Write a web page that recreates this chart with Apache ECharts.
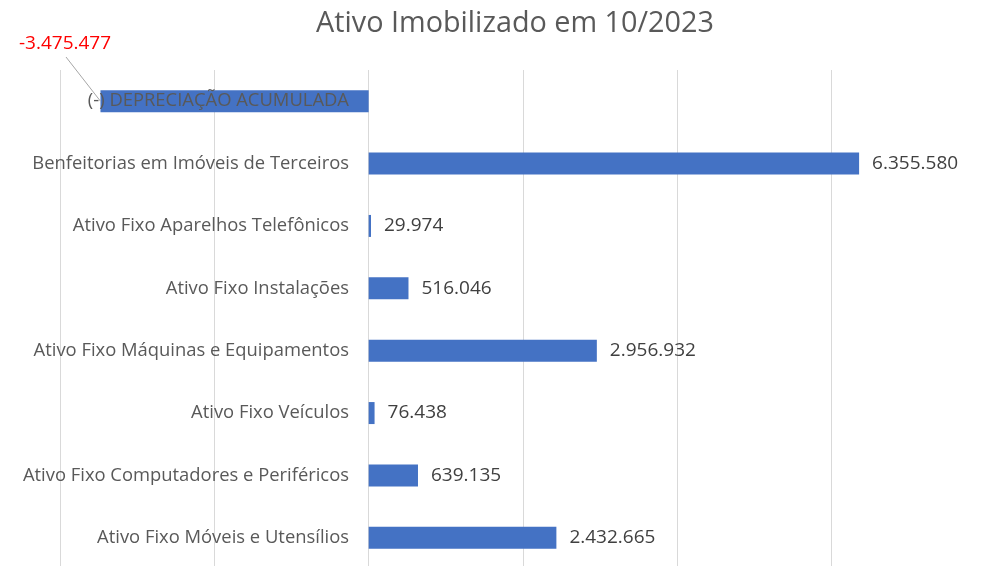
<!DOCTYPE html>
<html>
<head>
<meta charset="utf-8">
<script src="https://cdn.jsdelivr.net/npm/echarts@6/dist/echarts.min.js"></script>
<style>
  html, body { margin: 0; padding: 0; background: #fff; }
  #main { width: 986px; height: 566px; }
</style>
</head>
<body>
<div id="main"></div>
<script>
var categories = [
  '(-) DEPRECIAÇÃO ACUMULADA',
  'Benfeitorias em Imóveis de Terceiros',
  'Ativo Fixo Aparelhos Telefônicos',
  'Ativo Fixo Instalações',
  'Ativo Fixo Máquinas e Equipamentos',
  'Ativo Fixo Veículos',
  'Ativo Fixo Computadores e Periféricos',
  'Ativo Fixo Móveis e Utensílios'
];
var values = [-3475477, 6355580, 29974, 516046, 2956932, 76438, 639135, 2432665];

var FONT = 'Open Sans';

function fmt(v) {
  var s = String(Math.abs(v)).replace(/\B(?=(\d{3})+(?!\d))/g, '.');
  return (v < 0 ? '-' : '') + s;
}

var chartDom = document.getElementById('main');
var myChart = echarts.init(chartDom);

var data = values.map(function (v) {
  if (v < 0) {
    return { value: v, label: { position: 'left', color: '#ff0000' } };
  }
  return v;
});

var option = {
  animation: false,
  title: {
    text: 'Ativo Imobilizado em 10/2023',
    left: 311,
    top: 4,
    textStyle: { fontFamily: FONT, fontSize: 28.8, fontWeight: 'normal', color: '#595959' }
  },
  grid: { left: 60, right: 0, top: 70, height: 499, containLabel: false, outerBoundsMode: 'none' },
  xAxis: {
    type: 'value',
    min: -4000000,
    max: 8000000,
    interval: 2000000,
    axisLabel: { show: false },
    axisLine: { show: false },
    axisTick: { show: false },
    splitLine: { lineStyle: { color: '#d9d9d9', width: 1 } }
  },
  yAxis: {
    type: 'category',
    inverse: true,
    data: categories,
    z: 3,
    offset: -309,
    axisLine: { show: false, onZero: false },
    axisTick: { show: false },
    axisLabel: { fontFamily: FONT, fontSize: 18.4, color: '#595959', margin: 20 }
  },
  series: [{
    type: 'bar',
    data: data,
    barWidth: 22,
    itemStyle: { color: '#4472c4' },
    label: {
      show: true,
      position: 'right',
      distance: 13,
      fontFamily: FONT,
      fontSize: 19,
      color: '#404040',
      formatter: function (p) { return fmt(p.value); }
    },
    labelLayout: function (p) {
      if (p.dataIndex === 0) {
        return { x: 65, y: 44, align: 'center', verticalAlign: 'middle' };
      }
    }
  }]
};

option && myChart.setOption(option);

// leader line from the moved label to the end of the negative bar
var neg = values.findIndex(function (v) { return v < 0; });
var end = myChart.convertToPixel({ gridIndex: 0 }, [values[neg], categories[neg]]);
myChart.setOption({
  graphic: [{
    type: 'line',
    shape: { x1: 66, y1: 57, x2: end[0], y2: end[1] },
    style: { stroke: '#a6a6a6', lineWidth: 1 },
    z: 10
  }]
});

window.addEventListener('resize', function () { myChart.resize(); });
</script>
</body>
</html>
